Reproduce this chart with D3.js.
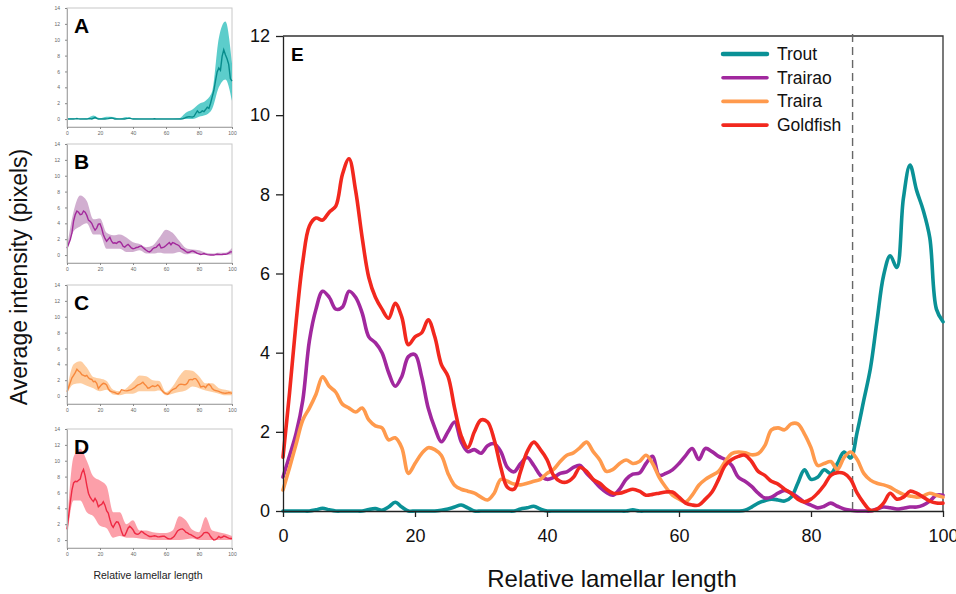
<!DOCTYPE html>
<html>
<head>
<meta charset="utf-8">
<script src="https://cdn.jsdelivr.net/npm/d3@7"></script>
<style>
  body { margin: 0; background: #fff; }
  svg { display: block; font-family: 'Liberation Sans', Arial, sans-serif; }
</style>
</head>
<body>
<svg id="chart" width="956" height="594"></svg>
<script>
// relative lamellar length, one step per percent
const positions = d3.range(0, 101)

const trout = [
  0, 0, 0, 0, 0, 0.03, 0.07, 0.03, 0, 0,
  0, 0, 0, 0.04, 0.06, 0.02, 0.1, 0.22, 0.1, 0,
  0, 0, 0, 0, 0.02, 0.05, 0.1, 0.15, 0.08, 0,
  0, 0, 0, 0, 0, 0, 0.05, 0.08, 0.12, 0.05,
  0, 0, 0, 0, 0, 0, 0, 0, 0, 0,
  0, 0, 0, 0.03, 0, 0, 0, 0, 0, 0,
  0, 0, 0, 0, 0, 0, 0, 0, 0, 0,
  0.02, 0.1, 0.2, 0.26, 0.3, 0.28, 0.25, 0.35, 0.7, 1.04,
  0.8, 0.85, 1.04, 0.95, 1.2, 1.49, 1.34, 2.0, 2.8, 3.6,
  4.8, 5.95, 6.45, 6.15, 7.9, 8.74, 8.1, 7.6, 6.9, 5.1,
  4.78
]

const trairao = [
  0.86, 1.4, 1.97, 2.8, 4.3, 5.1, 5.55, 5.4, 5.1, 5.15,
  5.55, 5.4, 5.0, 4.4, 4.25, 4.0, 3.5, 3.15, 3.4, 3.9,
  3.95, 3.4, 2.6, 2.1, 1.75, 2.0, 2.25, 1.75, 1.5, 1.55,
  1.46, 1.65, 1.7, 1.5, 1.1, 0.99, 1.2, 1.35, 1.15, 0.9,
  0.8, 0.85, 0.95, 0.99, 1.1, 1.15, 0.95, 0.78, 0.6, 0.47,
  0.4, 0.55, 0.8, 0.93, 0.96, 1.2, 1.38, 0.9, 0.95, 1.04,
  1.2, 1.4, 1.58, 1.3, 1.58, 1.5, 1.38, 1.3, 1.15, 0.85,
  0.75, 0.62, 0.45, 0.33, 0.35, 0.45, 0.52, 0.45, 0.35, 0.22,
  0.15, 0.08, 0.12, 0.2, 0.12, 0.05, 0.02, 0, 0, 0,
  0.05, 0.1, 0.08, 0.05, 0.07, 0.1, 0.1, 0.15, 0.25, 0.4,
  0.4
]

const traira = [
  0.53, 1.1, 1.7, 2.3, 2.6, 2.95, 3.39, 3.15, 3.0, 2.7,
  2.6, 2.5, 2.6, 2.3, 2.15, 2.1, 1.8, 1.85, 1.6, 0.95,
  1.2, 1.45, 1.6, 1.55, 1.4, 0.95, 0.65, 0.55, 0.5, 0.45,
  0.35, 0.28, 0.45, 0.8, 0.75, 0.68, 0.66, 0.7, 0.75, 0.8,
  0.95, 1.05, 1.25, 1.41, 1.47, 1.6, 1.74, 1.5, 1.29, 1.0,
  1.05, 1.2, 1.29, 1.2, 1.25, 1.41, 1.2, 0.85, 0.6, 0.4,
  0.3, 0.23, 0.4, 0.65, 0.8, 0.9, 1.0, 1.25, 1.45, 1.49,
  1.47, 1.42, 1.45, 1.65, 2.05, 2.1, 2.05, 2.2, 2.2, 1.95,
  1.6, 1.15, 1.2, 1.25, 1.05, 1.35, 1.49, 1.3, 0.95, 0.78,
  0.7, 0.66, 0.6, 0.5, 0.42, 0.38, 0.35, 0.38, 0.45, 0.4,
  0.35
]

const goldfish = [
  1.36, 3.0, 4.8, 6.3, 7.2, 7.4, 7.35, 7.55, 7.7, 8.5,
  8.9, 8.1, 6.9, 5.9, 5.4, 5.1, 4.87, 5.25, 4.9, 4.2,
  4.4, 4.5, 4.83, 4.4, 3.7, 3.4, 2.6, 1.9, 1.6, 2.0,
  2.3, 2.25, 1.8, 1.1, 0.6, 0.55, 1.0, 1.5, 1.74, 1.55,
  1.3, 0.9, 0.75, 0.73, 0.85, 1.1, 1.0, 0.8, 0.7, 0.55,
  0.45, 0.45, 0.5, 0.55, 0.5, 0.4, 0.42, 0.45, 0.48, 0.48,
  0.35, 0.2, 0.15, 0.15, 0.3, 0.48, 0.8, 1.15, 1.3, 1.38,
  1.41, 1.25, 1.0, 0.9, 0.75, 0.68, 0.55, 0.45, 0.3, 0.23,
  0.3, 0.45, 0.65, 0.9, 0.97, 0.95, 0.8, 0.45, 0.2, 0.02,
  0.05, 0.2, 0.45, 0.3, 0.35, 0.5, 0.45, 0.35, 0.25, 0.2,
  0.2
]

// spread of the individual fish, sampled every 4 %
const bandPositions = d3.range(0, 101, 4)

const troutUpper = [0.05, 0.1, 0.05, 0.1, 0.45, 0.1, 0.3, 0.25, 0.05, 0.25, 0.1, 0.05, 0.05, 0.05, 0.05, 0.05, 0.05, 0.1, 0.8, 1.2, 1.9, 2.3, 3.5, 10.2, 12.3, 7.0]
const troutLower = [0, 0, 0, 0, 0, 0, 0, 0, 0, 0, 0, 0, 0, 0, 0, 0, 0, 0, 0, 0, 0.3, 0.5, 1.3, 4.0, 5.0, 2.3]

const trairaoUpper = [1.0, 5.5, 7.5, 6.8, 4.5, 4.6, 2.8, 2.5, 2.6, 2.2, 1.6, 1.4, 1.0, 1.2, 2.2, 3.2, 2.8, 1.8, 0.9, 0.7, 0.6, 0.3, 0.2, 0.3, 0.3, 0.9]
const trairaoLower = [0.7, 3.0, 3.6, 4.0, 2.6, 2.6, 0.8, 0.8, 0.8, 0.4, 0.4, 0.6, 0.2, 0.2, 0.3, 0.2, 0.2, 0.4, 0.1, 0.2, 0.1, 0, 0, 0, 0, 0.1]

const trairaUpper = [0.8, 4.0, 4.4, 3.6, 2.4, 2.2, 1.9, 0.8, 0.6, 1.0, 1.8, 2.6, 2.5, 2.0, 1.9, 0.5, 1.2, 2.5, 3.3, 3.2, 2.5, 1.6, 1.6, 1.0, 0.8, 0.6]
const trairaLower = [0.3, 1.5, 1.6, 1.3, 1.0, 0.6, 0.8, 0.2, 0.1, 0.3, 0.3, 0.6, 0.6, 0.6, 0.7, 0.1, 0.3, 0.5, 0.7, 1.2, 1.0, 0.7, 0.5, 0.3, 0.1, 0.1]

const goldfishUpper = [1.5, 10.5, 11.5, 10.0, 8.0, 7.5, 6.8, 3.5, 3.5, 2.0, 2.5, 1.2, 1.2, 1.0, 0.9, 0.9, 1.2, 3.0, 2.5, 1.3, 1.0, 2.9, 1.2, 1.0, 0.8, 0.5]
const goldfishLower = [0.1, 5.0, 5.0, 3.5, 3.0, 1.8, 1.5, 0.3, 0.5, 0.3, 0.3, 0.2, 0.1, 0, 0, 0, 0, 0, 0.1, 0.2, 0, 0, 0, 0, 0, 0]

const seriesNames = ['Trout', 'Trairao', 'Traira', 'Goldfish']
const panelLetters = ['A', 'B', 'C', 'D']
const lineColors = ['#0a9196', '#a1289e', '#ff9a4d', '#f2281e']
const bandColors = ['#3fc4c2', '#c9a0c8', '#fec48f', '#fc8e9a']
const smallLineColors = ['#078c8c', '#a3299c', '#f7883c', '#ee2a44']

const mainTicksX = [0, 20, 40, 60, 80, 100]
const mainTicksY = [0, 2, 4, 6, 8, 10, 12]
const smallTicksY = [0, 2, 4, 6, 8, 10, 12, 14]
const cutoff = 86.3

const series = seriesNames.map((name, i) => ({
  name: name,
  letter: panelLetters[i],
  color: lineColors[i],
  bandColor: bandColors[i],
  smallColor: smallLineColors[i],
  values: [trout, trairao, traira, goldfish][i],
  upper: [troutUpper, trairaoUpper, trairaUpper, goldfishUpper][i],
  lower: [troutLower, trairaoLower, trairaLower, goldfishLower][i]
}))

const svg = d3.select('#chart')

// ---- main panel E ----
const x = d3.scaleLinear().domain([0, 100]).range([283, 943])
const y = d3.scaleLinear().domain([0, 12]).range([511, 36])

const main = svg.append('g').attr('class', 'main-panel')

main.append('path')
  .attr('d', `M${x(0)},${y(12)}H${x(100)}V${y(0)}`)
  .attr('fill', 'none')
  .attr('stroke', '#333')
  .attr('stroke-width', 1.3)

main.append('line')
  .attr('x1', x(cutoff)).attr('x2', x(cutoff))
  .attr('y1', y(12) - 2).attr('y2', y(0))
  .attr('stroke', '#666')
  .attr('stroke-width', 1.4)
  .attr('stroke-dasharray', '8,5')

const mainLine = d3.line()
  .x((d, i) => x(positions[i]))
  .y(d => y(d))
  .curve(d3.curveCatmullRom.alpha(0.5))

main.selectAll('path.series')
  .data(series)
  .enter()
  .append('path')
  .attr('class', 'series')
  .attr('d', d => mainLine(d.values))
  .attr('fill', 'none')
  .attr('stroke', d => d.color)
  .attr('stroke-width', 3.6)
  .attr('stroke-linejoin', 'round')
  .attr('stroke-linecap', 'round')

const yAxis = main.append('g')
  .attr('transform', `translate(${x(0)},0)`)
  .call(d3.axisLeft(y).tickValues(mainTicksY).tickSize(7).tickPadding(6).tickSizeOuter(0))
const xAxis = main.append('g')
  .attr('transform', `translate(0,${y(0)})`)
  .call(d3.axisBottom(x).tickValues(mainTicksX).tickSize(6).tickPadding(12).tickSizeOuter(0))

;[yAxis, xAxis].forEach(axis => {
  axis.select('.domain').attr('stroke', '#222').attr('stroke-width', 1.3)
  axis.selectAll('.tick line').attr('stroke', '#222').attr('stroke-width', 1.3)
  axis.selectAll('.tick text')
    .attr('fill', '#111')
    .style('font-family', "'Liberation Sans', Arial, sans-serif")
    .style('font-size', '18px')
})

main.append('text')
  .attr('x', 291).attr('y', 61)
  .attr('font-size', 19).attr('font-weight', 'bold')
  .text('E')

main.append('text')
  .attr('x', 612).attr('y', 587)
  .attr('text-anchor', 'middle')
  .attr('font-size', 24)
  .attr('fill', '#111')
  .text('Relative lamellar length')

main.append('text')
  .attr('transform', 'translate(27,277) rotate(-90)')
  .attr('text-anchor', 'middle')
  .attr('font-size', 23)
  .attr('fill', '#111')
  .text('Average intensity (pixels)')

// legend
const legend = main.append('g').attr('transform', 'translate(723,54)')
const legendItems = legend.selectAll('g')
  .data(series)
  .enter()
  .append('g')
  .attr('transform', (d, i) => `translate(0,${i * 23.7})`)
legendItems.append('line')
  .attr('x1', 0).attr('x2', 44)
  .attr('stroke', d => d.color)
  .attr('stroke-width', d => d.name === 'Trout' ? 4.5 : 3.6)
  .attr('stroke-linecap', 'round')
legendItems.append('text')
  .attr('x', 54).attr('y', 6)
  .attr('font-size', 17.5)
  .attr('fill', '#111')
  .text(d => d.name)

// ---- small panels A-D ----
const panelTops = [8, 144, 285, 429]

series.forEach((s, i) => {
  const top = panelTops[i]
  const sx = d3.scaleLinear().domain([0, 100]).range([67, 232])
  const sy = d3.scaleLinear().domain([-1, 14]).range([top + 119, top])
  const g = svg.append('g').attr('class', 'small-panel')

  g.append('rect')
    .attr('x', sx(0)).attr('y', sy(14))
    .attr('width', sx(100) - sx(0)).attr('height', sy(-1) - sy(14))
    .attr('fill', 'none')
    .attr('stroke', '#c8c8c8')
    .attr('stroke-width', 1)

  const area = d3.area()
    .x((d, k) => sx(bandPositions[k]))
    .y0((d, k) => sy(s.lower[k]))
    .y1(d => sy(d))
    .curve(d3.curveMonotoneX)

  g.append('path')
    .attr('d', area(s.upper))
    .attr('fill', s.bandColor)
    .attr('fill-opacity', 0.85)

  const line = d3.line()
    .x((d, k) => sx(positions[k]))
    .y(d => sy(d))

  g.append('path')
    .attr('d', line(s.values))
    .attr('fill', 'none')
    .attr('stroke', s.smallColor)
    .attr('stroke-width', 1.4)

  const ay = g.append('g')
    .attr('transform', `translate(${sx(0)},0)`)
    .call(d3.axisLeft(sy).tickValues(smallTicksY).tickSize(2).tickPadding(5).tickSizeOuter(0))
  const ax = g.append('g')
    .attr('transform', `translate(0,${sy(-1)})`)
    .call(d3.axisBottom(sx).tickValues(mainTicksX).tickSize(2).tickPadding(2).tickSizeOuter(0))

  ;[ay, ax].forEach(axis => {
    axis.select('.domain').attr('stroke', '#aaa')
    axis.selectAll('.tick line').attr('stroke', '#888')
    axis.selectAll('.tick text')
      .attr('fill', '#666')
      .style('font-size', '5px')
  })

  g.append('text')
    .attr('x', 74).attr('y', top + 25)
    .attr('font-size', 21).attr('font-weight', 'bold')
    .text(s.letter)
})

svg.append('text')
  .attr('x', 148).attr('y', 579)
  .attr('text-anchor', 'middle')
  .attr('font-size', 10.5)
  .attr('fill', '#222')
  .text('Relative lamellar length')
</script>
</body>
</html>
